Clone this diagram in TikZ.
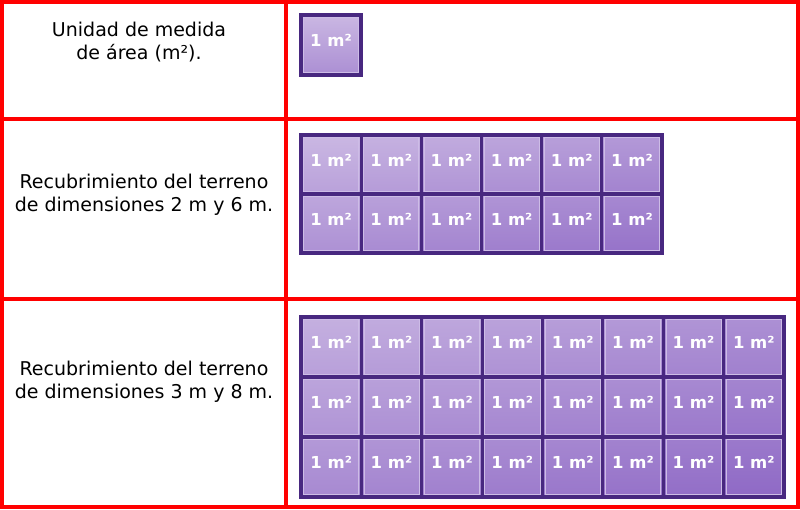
\documentclass[tikz,border=0pt]{standalone}
\usepackage{fontspec}
\setmainfont{DejaVu Sans}
\definecolor{redline}{HTML}{FF0000}
\definecolor{sqdark}{HTML}{482880}
\definecolor{sqlight}{HTML}{CDBBE4}
\definecolor{sqdeep}{HTML}{9470C8}
\definecolor{sqrim}{HTML}{CDBCE6}
\begin{document}
\begin{tikzpicture}[x=1pt,y=-1pt,
  frame/.style={draw=redline,line width=4pt},
  rowlabel/.style={align=center,font=\fontsize{19}{23}\selectfont,text=black,inner sep=0pt},
  unitsq/.style={draw=sqdark,line width=3.2pt,minimum width=60.3pt,minimum height=60pt,
    inner sep=0pt,text=white,font=\bfseries\fontsize{16.5}{16.5}\selectfont,
    text height=12pt,text depth=8.6pt,
    path picture={\draw[sqrim,line width=0.7pt]
      ([xshift=2.6pt,yshift=-2.6pt]path picture bounding box.north west) rectangle
      ([xshift=-2.6pt,yshift=2.6pt]path picture bounding box.south east);}}
]
\useasboundingbox (0,0) rectangle (800,509);
\fill[white] (0,0) rectangle (800,509);
% table frame
\draw[frame] (2,2) rectangle (798,507);
\draw[frame] (285.5,2) -- (285.5,507);
\draw[frame] (2,119) -- (798,119);
\draw[frame] (2,299) -- (798,299);
% labels
\node[rowlabel] (t1) at (139,42) {Unidad de medida\\de área (m²).};
\node[rowlabel] (t2) at (144,195) {Recubrimiento del terreno\\de dimensiones 2 m y 6 m.};
\node[rowlabel] (t3) at (144,382) {Recubrimiento del terreno\\de dimensiones 3 m y 8 m.};
% unit square
\node[unitsq,minimum width=60pt,top color=sqlight!95!sqdeep,bottom color=sqlight!40!sqdeep] (u) at (331,45) {1 m²};
% 2 x 6
\foreach \r in {1,2}{
  \foreach \c in {1,...,6}{
    \pgfmathtruncatemacro{\pt}{95-8*(\c-1)-22*(\r-1)}
    \pgfmathtruncatemacro{\pb}{\pt-30}
    \node[unitsq,minimum width=60.17pt,minimum height=59pt,
      top color=sqlight!\pt!sqdeep,bottom color=sqlight!\pb!sqdeep]
      (a\r-\c) at ({301+60.17*(\c-0.5)},{135+59*(\r-0.5)}) {1 m²};
  }
}
% 3 x 8
\foreach \r in {1,2,3}{
  \foreach \c in {1,...,8}{
    \pgfmathtruncatemacro{\pt}{85-6*(\c-1)-15*(\r-1)}
    \pgfmathtruncatemacro{\pb}{\pt-22}
    \node[unitsq,minimum width=60.375pt,
      top color=sqlight!\pt!sqdeep,bottom color=sqlight!\pb!sqdeep]
      (b\r-\c) at ({301+60.375*(\c-0.5)},{317+60*(\r-0.5)}) {1 m²};
  }
}
\end{tikzpicture}
\end{document}
